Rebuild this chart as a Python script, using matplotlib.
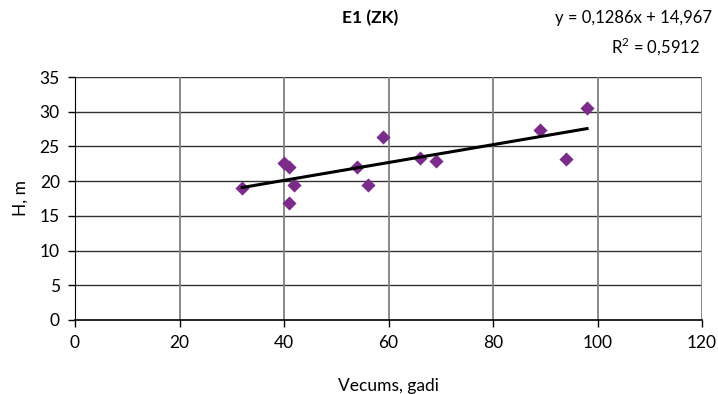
import matplotlib
matplotlib.use("Agg")
import matplotlib.pyplot as plt
import numpy as np

plt.rcParams['font.family'] = ['Lato', 'DejaVu Sans']
plt.rcParams['mathtext.fontset'] = 'custom'
plt.rcParams['mathtext.rm'] = 'Lato'

age = [32, 40, 41, 42, 41, 54, 56, 59, 66, 69, 89, 94, 98]
height = [19.0, 22.6, 22.0, 19.5, 16.8, 22.1, 19.5, 26.4, 23.4, 22.9, 27.3, 23.2, 30.5]
slope = 0.1286
intercept = 14.967
r2 = 0.5912
xticks = [0, 20, 40, 60, 80, 100, 120]
yticks = [0, 5, 10, 15, 20, 25, 30, 35]

fig = plt.figure(figsize=(7.18, 3.94), dpi=100)
ax = fig.add_axes([75/718, 1 - 320/394, (702-75)/718, (320-77)/394])

ax.set_xlim(0, 120)
ax.set_ylim(0, 35)
ax.set_xticks(xticks)
ax.set_yticks(yticks)
for y in yticks[1:]:
    ax.axhline(y, color='#333333', lw=1.0, zorder=1)
for x in xticks[1:]:
    ax.axvline(x, color='#808080', lw=1.3, zorder=1)

ax.scatter(age, height, marker='D', s=52, color='#7B2C8B', zorder=3, linewidths=0)
xs = np.array([min(age), max(age)])
ax.plot(xs, slope * xs + intercept, color='black', lw=2.2, zorder=4)

for s in ['top', 'right']:
    ax.spines[s].set_visible(False)
ax.spines['left'].set_color('black')
ax.spines['bottom'].set_color('black')
ax.spines['bottom'].set_linewidth(1.2)
ax.tick_params(direction='out', length=5, width=1, labelsize=12.5, pad=6)

ax.set_xlabel('Vecums, gadi', fontsize=12.5, labelpad=19)
ax.set_ylabel('H, m', fontsize=12.5, labelpad=8)

fig.text(370/718, 1 - 18/394, 'E1 (ZK)', fontsize=12.5, fontweight='bold', ha='center', va='center')
fig.text(712/718, 1 - 18/394, 'y = 0,1286x + 14,967', fontsize=12, ha='right', va='center')
fig.text(700/718, 1 - 46/394, r'R$^{2}$ = 0,5912', fontsize=12, ha='right', va='center')

fig.savefig('out.png', dpi=100)
